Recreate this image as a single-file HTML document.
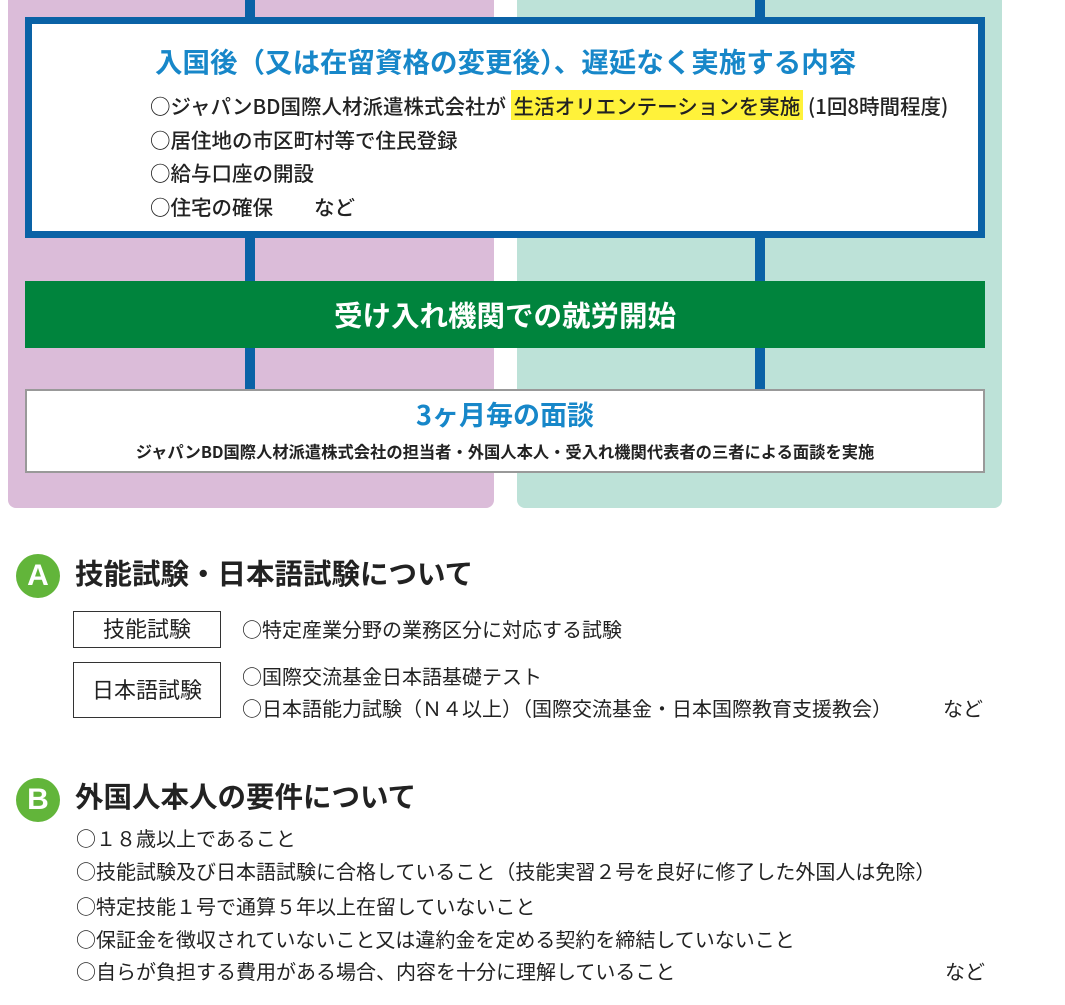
<!DOCTYPE html>
<html><head><meta charset="utf-8"><style>
*{margin:0;padding:0;box-sizing:border-box}
body{width:1065px;height:1005px;background:#fff;position:relative;overflow:hidden;font-family:"Noto Sans CJK JP","Liberation Sans",sans-serif;color:#222}
.a{position:absolute;white-space:nowrap}
.it{font-size:20.5px;font-weight:500;line-height:26px}
.r{font-size:20px;line-height:26px}
</style></head><body>
<div class="a" style="left:8px;top:-10px;width:486px;height:518px;background:#dbbcd9;border-radius:8px"></div>
<div class="a" style="left:517px;top:-10px;width:485px;height:518px;background:#bde2d8;border-radius:8px"></div>
<div class="a" style="left:245px;top:0;width:10px;height:389px;background:#0a62a6"></div>
<div class="a" style="left:755px;top:0;width:10px;height:389px;background:#0a62a6"></div>

<div class="a" style="left:25px;top:17px;width:960px;height:221px;background:#fff;border:7px solid #0a62a6"></div>
<div class="a" style="left:155px;top:41px;font-size:27.5px;font-weight:bold;color:#1787c9;line-height:38px">入国後（又は在留資格の変更後）、遅延なく実施する内容</div>
<div class="a it" style="left:150px;top:92px">○ジャパンBD国際人材派遣株式会社が <span style="background:#fff23a;padding:0 3px">生活オリエンテーションを実施</span> (1回8時間程度)</div>
<div class="a it" style="left:150px;top:126px">○居住地の市区町村等で住民登録</div>
<div class="a it" style="left:150px;top:159px">○給与口座の開設</div>
<div class="a it" style="left:150px;top:193px">○住宅の確保　　など</div>

<div class="a" style="left:25px;top:281px;width:960px;height:67px;background:#00843d;color:#fff;font-size:28.5px;font-weight:bold;text-align:center;line-height:67px">受け入れ機関での就労開始</div>

<div class="a" style="left:25px;top:389px;width:960px;height:84px;background:#fff;border:2px solid #999"></div>
<div class="a" style="left:25px;top:396px;width:960px;text-align:center;font-size:27px;font-weight:bold;color:#1787c9;line-height:36px">3ヶ月毎の面談</div>
<div class="a" style="left:25px;top:440px;width:960px;text-align:center;font-size:16.3px;font-weight:bold;line-height:22px">ジャパンBD国際人材派遣株式会社の担当者・外国人本人・受入れ機関代表者の三者による面談を実施</div>

<div class="a" style="left:16px;top:554px;width:44px;height:44px;border-radius:50%;background:#62b53a;color:#fff;font-size:30px;font-weight:bold;text-align:center;line-height:44px;font-family:'Liberation Sans',sans-serif">A</div>
<div class="a" style="left:75px;top:553px;font-size:28.5px;font-weight:bold;line-height:40px">技能試験・日本語試験について</div>
<div class="a" style="left:73px;top:611px;width:148px;height:37px;border:1.5px solid #333;text-align:center;font-size:22px;line-height:33px">技能試験</div>
<div class="a" style="left:73px;top:662px;width:148px;height:56px;border:1.5px solid #333;text-align:center;font-size:22px;line-height:52px">日本語試験</div>
<div class="a r" style="left:242px;top:616px">○特定産業分野の業務区分に対応する試験</div>
<div class="a r" style="left:242px;top:663px">○国際交流基金日本語基礎テスト</div>
<div class="a r" style="left:242px;top:695px">○日本語能力試験（Ｎ４以上）（国際交流基金・日本国際教育支援教会）</div>
<div class="a r" style="left:943px;top:695px">など</div>

<div class="a" style="left:16px;top:778px;width:44px;height:44px;border-radius:50%;background:#62b53a;color:#fff;font-size:30px;font-weight:bold;text-align:center;line-height:44px;font-family:'Liberation Sans',sans-serif">B</div>
<div class="a" style="left:75px;top:776px;font-size:28.5px;font-weight:bold;line-height:40px">外国人本人の要件について</div>
<div class="a r" style="left:76px;top:825px">○１８歳以上であること</div>
<div class="a r" style="left:76px;top:858px">○技能試験及び日本語試験に合格していること（技能実習２号を良好に修了した外国人は免除）</div>
<div class="a r" style="left:76px;top:893px">○特定技能１号で通算５年以上在留していないこと</div>
<div class="a r" style="left:76px;top:926px">○保証金を徴収されていないこと又は違約金を定める契約を締結していないこと</div>
<div class="a r" style="left:76px;top:958px">○自らが負担する費用がある場合、内容を十分に理解していること</div>
<div class="a r" style="left:945px;top:958px">など</div>
</body></html>
